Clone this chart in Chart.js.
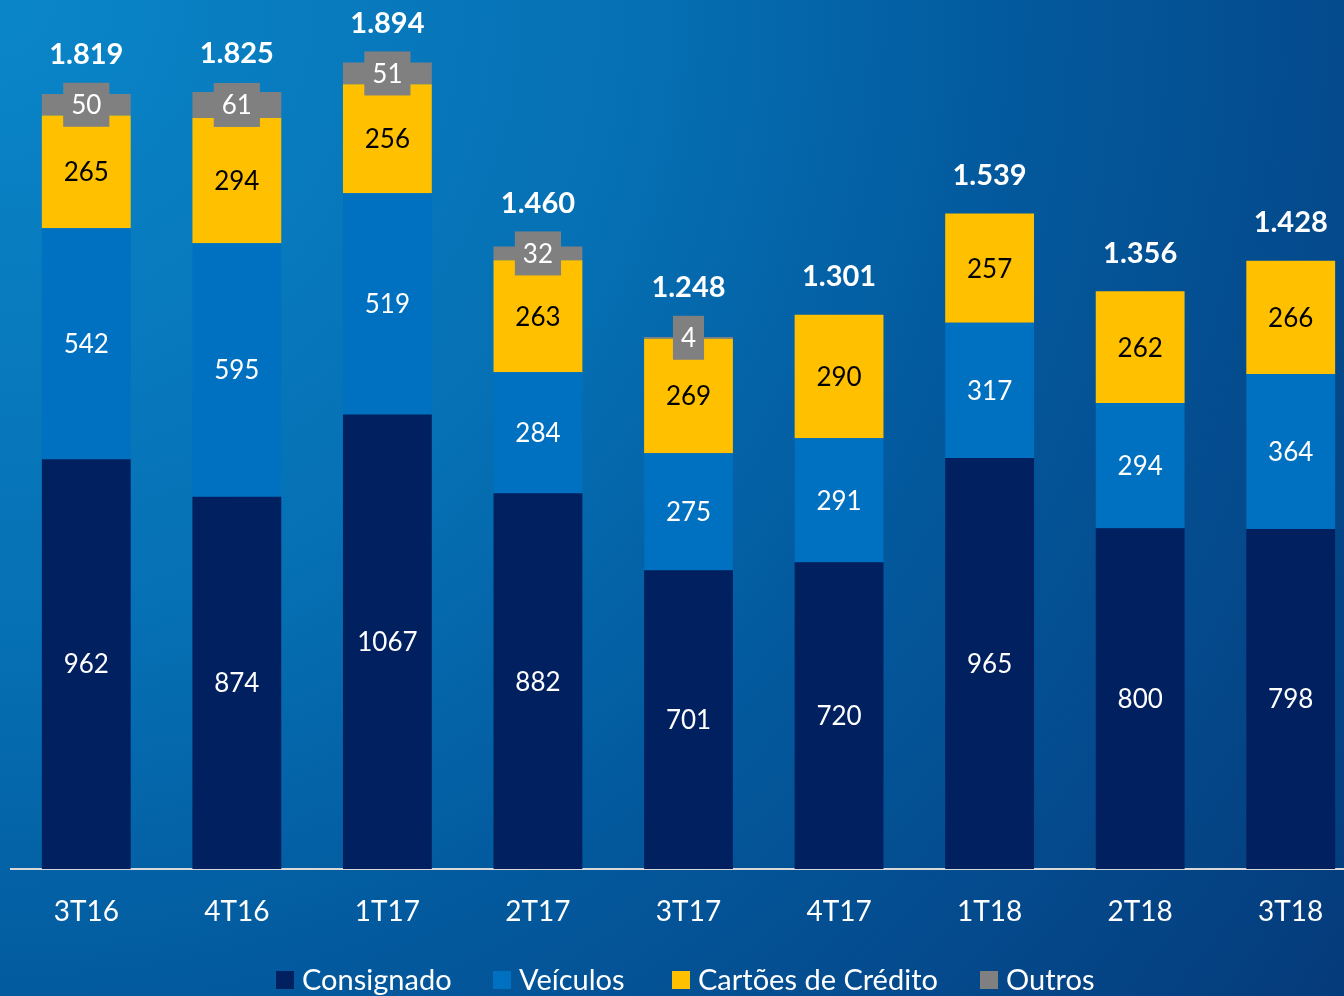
<!DOCTYPE html>
<html>
<head>
<meta charset="utf-8">
<script src="https://cdn.jsdelivr.net/npm/chart.js@4/dist/chart.umd.min.js"></script>
<style>
  html, body { margin:0; padding:0; width:1344px; height:996px; overflow:hidden; }
  body { background: radial-gradient(circle at 0 0, #0a86c9 0px, #0670b4 630px, #035a9e 1000px, #044a8c 1350px, #053a7a 1680px); position:relative; font-family: Lato, "Open Sans", sans-serif; }
  #c { position:absolute; left:0; top:0; }
  #legend { position:absolute; top:0; left:0; width:1344px; height:996px; color:#fff; font-size:29px; white-space:nowrap; pointer-events:none; }
  #legend .item { position:absolute; top:961px; display:flex; align-items:center; }
  #legend .sw { width:18px; height:18px; margin-right:8px; margin-top:3px; }
</style>
</head>
<body>
<canvas id="c" width="1380" height="996"></canvas>
<div id="legend"></div>
<script>
const categories = ["3T16","4T16","1T17","2T17","3T17","4T17","1T18","2T18","3T18"];
const consignado = [962, 874, 1067, 882, 701, 720, 965, 800, 798];
const veiculos   = [542, 595, 519, 284, 275, 291, 317, 294, 364];
const cartoes    = [265, 294, 256, 263, 269, 290, 257, 262, 266];
const outros     = [50, 61, 51, 32, 4, 0, 0, 0, 0];
const totals     = ["1.819","1.825","1.894","1.460","1.248","1.301","1.539","1.356","1.428"];
const seriesNames = ["Consignado","Veículos","Cartões de Crédito","Outros"];
const colors = ["#002060","#0070c0","#ffc000","#808080"];
const labelColors = ["#ffffff","#ffffff","#000000","#ffffff"];

const FONT = 'Lato, "Open Sans", sans-serif';

const labelPlugin = {
  id: 'stackLabels',
  afterDatasetsDraw(chart) {
    const ctx = chart.ctx;
    ctx.save();
    ctx.textAlign = 'center';
    ctx.textBaseline = 'middle';
    const boxTops = [];
    chart.data.datasets.forEach((ds, di) => {
      const meta = chart.getDatasetMeta(di);
      meta.data.forEach((bar, i) => {
        const v = ds.data[i];
        if (!v) return;
        const cy = (bar.y + bar.base) / 2;
        ctx.font = '26px ' + FONT;
        const txt = String(v);
        if (di === 3) {
          const w = ctx.measureText(txt).width + 16;
          ctx.fillStyle = colors[3];
          ctx.fillRect(bar.x - w / 2, cy - 22, w, 44);
          boxTops[i] = cy - 22;
        }
        ctx.fillStyle = labelColors[di];
        ctx.fillText(txt, bar.x, cy + 1);
      });
    });
    const topMeta = chart.getDatasetMeta(3);
    ctx.font = 'bold 29px ' + FONT;
    ctx.fillStyle = '#ffffff';
    topMeta.data.forEach((bar, i) => {
      let y = bar.y - 38;
      if (boxTops[i] !== undefined) y = Math.min(y, boxTops[i] - 28);
      ctx.fillText(totals[i], bar.x, y);
    });
    ctx.restore();
  }
};

const datasets = [consignado, veiculos, cartoes, outros].map((d, i) => ({
  label: seriesNames[i],
  data: d,
  backgroundColor: colors[i],
  borderWidth: 0,
  categoryPercentage: 1,
  barPercentage: 0.59,
  stack: 's'
}));

new Chart(document.getElementById('c'), {
  type: 'bar',
  data: { labels: categories, datasets },
  options: {
    responsive: false,
    devicePixelRatio: 1,
    animation: false,
    layout: { padding: { top: 17, left: 11, right: 14, bottom: 0 } },
    plugins: { legend: { display: false }, tooltip: { enabled: false } },
    scales: {
      x: {
        stacked: true,
        grid: { display: false, drawTicks: false },
        border: { display: true, color: '#d9d9d9', width: 2 },
        ticks: { color: '#ffffff', font: { size: 28, family: FONT }, padding: 26 },
        afterFit(scale) { scale.height = 127; }
      },
      y: {
        stacked: true,
        display: false,
        min: 0,
        max: 2000
      }
    }
  },
  plugins: [labelPlugin]
});

const legendX = [276, 493, 672, 980];
const leg = document.getElementById('legend');
seriesNames.forEach((n, i) => {
  const it = document.createElement('div');
  it.className = 'item';
  it.style.left = legendX[i] + 'px';
  it.innerHTML = '<div class="sw" style="background:' + colors[i] + '"></div><span>' + n + '</span>';
  leg.appendChild(it);
});
</script>
</body>
</html>
